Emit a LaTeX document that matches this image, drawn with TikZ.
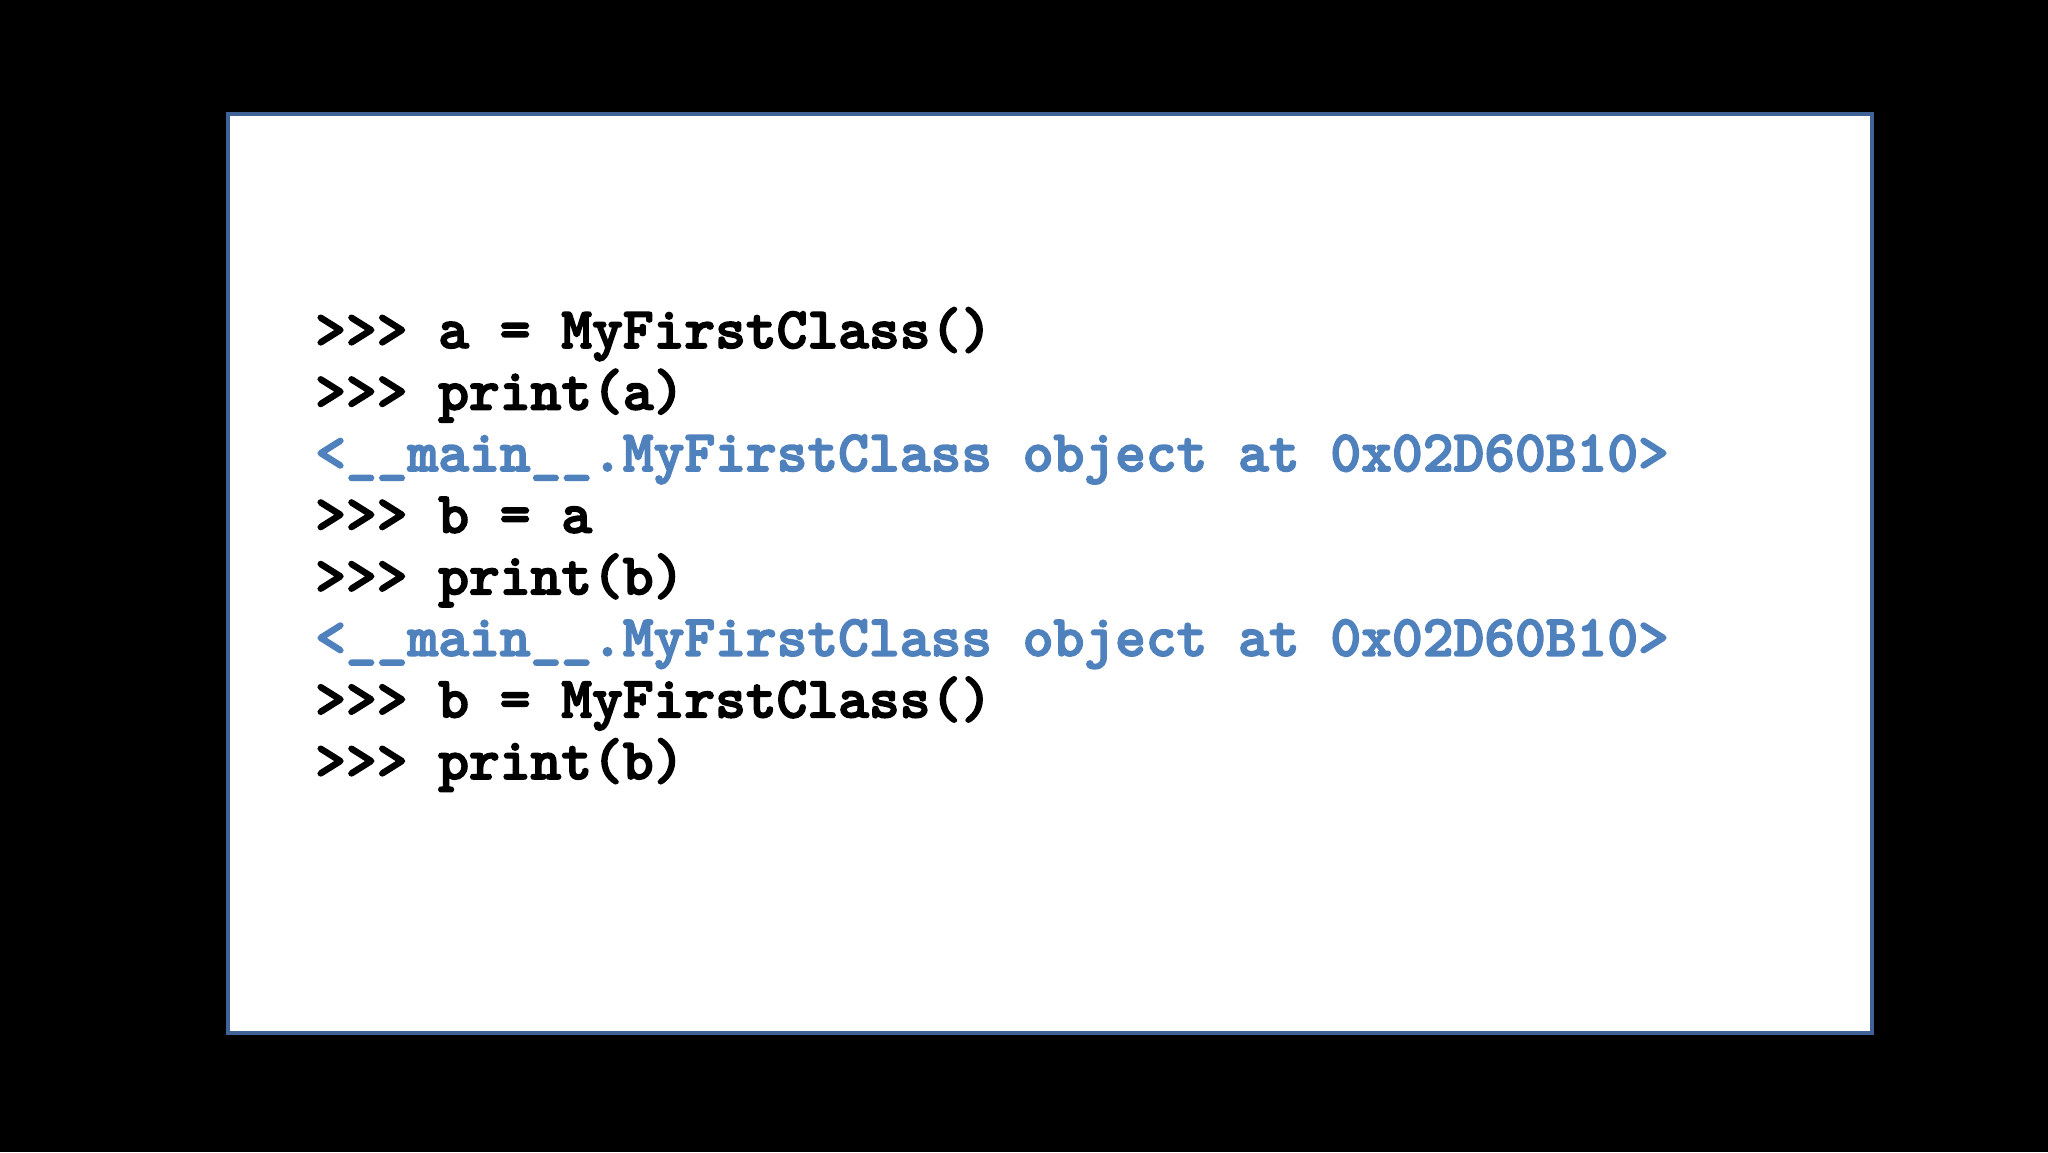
\documentclass[tikz,border=0pt]{standalone}
\usepackage{fontspec}
\definecolor{outblue}{HTML}{4F81BD}
\definecolor{frameblue}{HTML}{3F6396}
\newcommand{\heavytext}[1]{\special{pdf:literal direct 2 Tr 1.6 w}#1\special{pdf:literal direct 0 Tr}}
\begin{document}
\begin{tikzpicture}[x=1pt,y=1pt,
  code/.style={anchor=base west,inner sep=0pt,font=\fontsize{58.6}{66}\selectfont\ttfamily\bfseries},
  outp/.style={code,text=outblue}]
\fill[black] (0,0) rectangle (2048,1152);
\useasboundingbox (0,0) rectangle (2048,1152);
\node[draw=frameblue,line width=4pt,fill=white,minimum width=1644pt,minimum height=918pt,inner sep=0pt,anchor=south west] (frame) at (226,117.5) {};
\node[code] (l1) at (315,804) {\heavytext{>>> a = MyFirstClass()}};
\node[code] (l2) at (315,742.4) {\heavytext{>>> print(a)}};
\node[outp] (l3) at (315,680.9) {\heavytext{<\_\_main\_\_.MyFirstClass object at 0x02D60B10>}};
\node[code] (l4) at (315,619.3) {\heavytext{>>> b = a}};
\node[code] (l5) at (315,557.7) {\heavytext{>>> print(b)}};
\node[outp] (l6) at (315,496.2) {\heavytext{<\_\_main\_\_.MyFirstClass object at 0x02D60B10>}};
\node[code] (l7) at (315,434.6) {\heavytext{>>> b = MyFirstClass()}};
\node[code] (l8) at (315,373.0) {\heavytext{>>> print(b)}};
\end{tikzpicture}
\end{document}
